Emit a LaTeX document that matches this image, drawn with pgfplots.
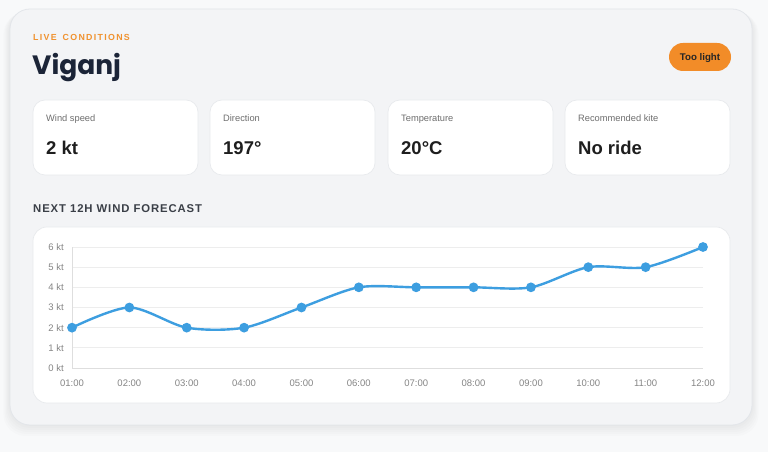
\documentclass[border=0pt]{standalone}
\usepackage{pgfplots}
\pgfplotsset{compat=1.18}
\usepackage{fontspec}
\setmainfont{Liberation Sans}
\newfontfamily\poppins{Poppins}
\newfontfamily\spaced[LetterSpace=15]{Liberation Sans}
\newfontfamily\spacedb[LetterSpace=8]{Liberation Sans}
\definecolor{pagebg}{HTML}{F8F9FA}
\definecolor{cardbg}{HTML}{F3F4F6}
\definecolor{cardline}{HTML}{E3E6EA}
\definecolor{orangetxt}{HTML}{F0922F}
\definecolor{pill}{HTML}{F28C28}
\definecolor{navy}{HTML}{1B2437}
\definecolor{lblgrey}{HTML}{6E6E6E}
\definecolor{valtxt}{HTML}{1E1E1E}
\definecolor{sechead}{HTML}{3A3F47}
\definecolor{ticktxt}{HTML}{858585}
\definecolor{gridc}{HTML}{EDEDED}
\definecolor{axisc}{HTML}{DEDEDE}
\definecolor{lineblue}{HTML}{3D9EE0}
\definecolor{whiteline}{HTML}{E8EAED}
\begin{document}
\begin{tikzpicture}[x=1pt,y=1pt]
\path[use as bounding box] (0,0) rectangle (768,452);
\fill[pagebg] (0,0) rectangle (768,452);
% shadow
\foreach \s in {1,3,5,7,9,11}{
  \fill[black,opacity=0.012,rounded corners=22] (10-\s*0.6,27-\s) rectangle (752+\s*0.6,443-\s*0.3);
}
% main card
\filldraw[fill=cardbg,draw=cardline,line width=0.8pt,rounded corners=20] (10,27) rectangle (752,443);
% header
\node[anchor=base west,inner sep=0pt,text=orangetxt,font=\spaced\bfseries\fontsize{8.8}{10}\selectfont] at (33,411) {LIVE\hspace*{6pt}CONDITIONS};
\node[anchor=base west,inner sep=0pt,text=navy,font=\poppins\bfseries\fontsize{26.5}{30}\selectfont] at (32,377) {Viganj};
% pill
\fill[pill,rounded corners=14] (669,381) rectangle (731,409);
\node[anchor=base,inner sep=0pt,text=black!85,font=\bfseries\fontsize{9.7}{11}\selectfont] at (700,391.5) {Too light};
% stat cards
\foreach \xa/\lab/\val in {33/Wind speed/2 kt,210/Direction/197°,388/Temperature/20°C,565/Recommended kite/No ride}{
  \filldraw[fill=white,draw=whiteline,line width=0.7pt,rounded corners=12] (\xa,277) rectangle (\xa+165,352);
  \node[anchor=base west,inner sep=0pt,text=lblgrey,font=\fontsize{9.3}{11}\selectfont] at (\xa+13,330) {\lab};
  \node[anchor=base west,inner sep=0pt,text=valtxt,font=\bfseries\fontsize{18.5}{21}\selectfont] at (\xa+13,297.5) {\val};
}
% section header
\node[anchor=base west,inner sep=0pt,text=sechead,font=\spacedb\bfseries\fontsize{11.3}{13}\selectfont] at (33,239.5) {NEXT 12H WIND FORECAST};
% chart card
\filldraw[fill=white,draw=whiteline,line width=0.7pt,rounded corners=14] (33,49) rectangle (730,225);
\begin{axis}[
  at={(72pt,84pt)}, anchor=origin,
  scale only axis, width=631pt, height=121pt,
  xmin=0, xmax=11, ymin=0, ymax=6,
  axis x line=bottom, axis y line=left,
  axis line style={-,axisc,line width=0.8pt},
  xtick={0,...,11},
  xticklabels={01:00,02:00,03:00,04:00,05:00,06:00,07:00,08:00,09:00,10:00,11:00,12:00},
  ytick={0,...,6},
  yticklabels={0 kt,1 kt,2 kt,3 kt,4 kt,5 kt,6 kt},
  major tick length=0pt,
  ymajorgrids, grid style={gridc,line width=0.7pt},
  xticklabel style={anchor=north,inner sep=0pt,yshift=-11.5pt,text=ticktxt,font=\fontsize{9.5}{11}\selectfont},
  yticklabel style={anchor=east,inner sep=0pt,xshift=-8pt,text=ticktxt,font=\fontsize{9.5}{11}\selectfont},
  clip=false,
]
\addplot[lineblue,line width=2.4pt,smooth,tension=0.5,mark=*,mark size=3.6pt,mark options={solid,fill=lineblue,draw=none}] coordinates {
(0,2) (1,3) (2,2) (3,2) (4,3) (5,4) (6,4) (7,4) (8,4) (9,5) (10,5) (11,6)
};
\end{axis}
\end{tikzpicture}
\end{document}
